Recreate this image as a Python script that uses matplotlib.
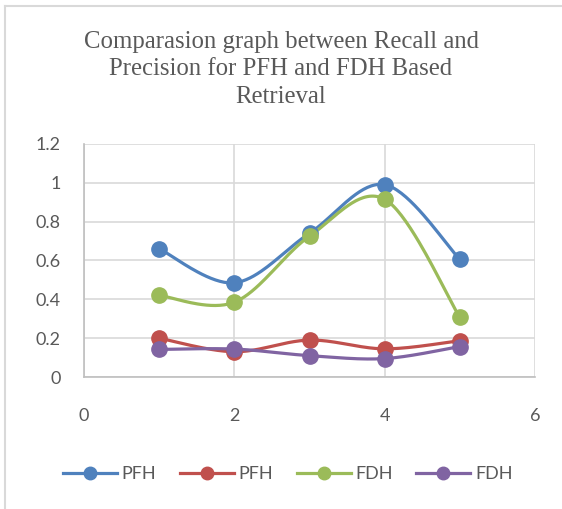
import numpy as np
import matplotlib.pyplot as plt
from matplotlib.lines import Line2D

x_vals = [1, 2, 3, 4, 5]
pfh_a = [0.66, 0.485, 0.74, 0.99, 0.605]
pfh_b = [0.20, 0.13, 0.19, 0.145, 0.187]
fdh_a = [0.42, 0.385, 0.725, 0.915, 0.307]
fdh_b = [0.142, 0.144, 0.11, 0.095, 0.157]

labels = ["PFH", "PFH", "FDH", "FDH"]
colors = ["#4F81BD", "#C0504D", "#9BBB59", "#8064A2"]
title = "Comparasion graph between Recall and\nPrecision for PFH and FDH Based\nRetrieval"


def smooth(xs, ys, n=40):
  # bezier segments like excel's smoothed lines
  p = np.column_stack([xs, ys]).astype(float)
  p = np.vstack([p[0], p, p[-1]])
  out = []
  for i in range(1, len(p) - 2):
    p0, p1, p2, p3 = p[i-1], p[i], p[i+1], p[i+2]
    c1 = p1 + (p2 - p0) / 6
    c2 = p2 - (p3 - p1) / 6
    t = np.linspace(0, 1, n)[:, None]
    seg = (1-t)**3*p1 + 3*(1-t)**2*t*c1 + 3*(1-t)*t**2*c2 + t**3*p2
    out.append(seg if i == 1 else seg[1:])
  out = np.vstack(out)
  return out[:, 0], out[:, 1]


fig = plt.figure(figsize=(5.62, 5.09), dpi=100)
ax = fig.add_axes([0.1495, 0.2593, 0.8025, 0.458])

series = [pfh_a, pfh_b, fdh_a, fdh_b]
handles = []
for ys, c, lab in zip(series, colors, labels):
  sx, sy = smooth(x_vals, ys)
  ax.plot(sx, sy, color=c, lw=2.3, zorder=3, solid_capstyle='round')
  ax.plot(x_vals, ys, 'o', color=c, ms=11, zorder=4)
  handles.append(Line2D([], [], color=c, lw=2.3, marker='o', ms=9, label=lab))

ax.set_xlim(0, 6)
ax.set_ylim(0, 1.2)
ax.set_xticks([0, 2, 4, 6])
ax.set_yticks([0, 0.2, 0.4, 0.6, 0.8, 1.0, 1.2])
ax.set_yticklabels(["0", "0.2", "0.4", "0.6", "0.8", "1", "1.2"])
ax.grid(True, color="#d9d9d9", lw=1.2)
ax.set_axisbelow(True)
for s in ["top", "right"]:
  ax.spines[s].set_visible(False)
for s in ["left", "bottom"]:
  ax.spines[s].set_color("#bfbfbf")
  ax.spines[s].set_linewidth(1.2)
ax.tick_params(length=0, labelsize=13, labelcolor="#595959")
ax.tick_params(axis='y', pad=17)
ax.tick_params(axis='x', pad=22)
for lbl in ax.get_xticklabels() + ax.get_yticklabels():
  lbl.set_family("Lato")

fig.text(0.5, 0.864, title, ha='center', va='center', fontsize=17.8,
         family="Liberation Serif", color="#595959", linespacing=1.33)

fig.legend(handles=handles, loc='center', bbox_to_anchor=(0.512, 0.068), ncol=4,
           frameon=False, handlelength=3.0, columnspacing=1.3, handletextpad=0.25,
           prop={'family': 'Lato', 'size': 13}, labelcolor="#595959")

# chart border (top and left edges visible)
fig.add_artist(Line2D([5/562, 1], [1 - 6/509, 1 - 6/509], color="#d9d9d9", lw=1.5))
fig.add_artist(Line2D([5/562, 5/562], [0, 1 - 6/509], color="#d9d9d9", lw=1.5))

fig.savefig("out.png", dpi=100)
